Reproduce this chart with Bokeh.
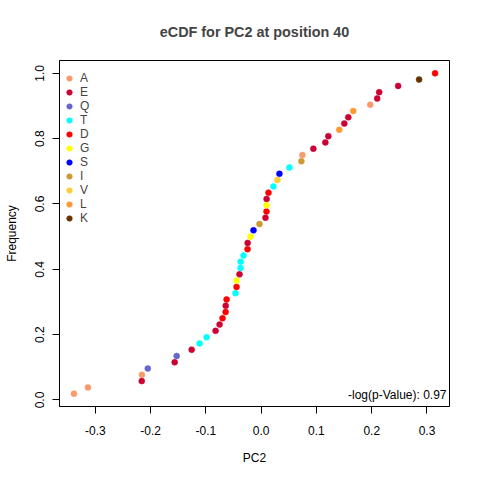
from bokeh.plotting import figure
from bokeh.models import Range1d, FixedTicker, CustomJSTickFormatter, Legend, LegendItem, Label, ColumnDataSource
from bokeh.embed import file_html
from bokeh.resources import INLINE

# eCDF data (sorted ascending by PC2)
residues = ["A", "A", "E", "A", "Q", "E", "Q", "E", "T", "T",
            "E", "E", "D", "D", "E", "D", "T", "D", "G", "E",
            "T", "T", "T", "D", "E", "G", "S", "I", "E", "D",
            "G", "E", "D", "T", "V", "S", "T", "I", "A", "E",
            "E", "E", "L", "E", "E", "L", "A", "E", "E", "E",
            "K", "D"]
pc2 = [-0.3388, -0.3135, -0.2161, -0.2158, -0.2052, -0.1565, -0.1529, -0.1258, -0.1114, -0.0987,
       -0.0825, -0.0753, -0.0699, -0.0644, -0.0642, -0.0626, -0.0464, -0.0446, -0.0444, -0.0392,
       -0.0374, -0.0372, -0.0319, -0.0247, -0.0245, -0.0193, -0.0139, -0.0031, 0.0078, 0.0096,
       0.0097, 0.0098, 0.0132, 0.0222, 0.0294, 0.0330, 0.0511, 0.0727, 0.0746, 0.0944,
       0.1161, 0.1215, 0.1413, 0.1504, 0.1576, 0.1666, 0.1973, 0.2099, 0.2135, 0.2478,
       0.2857, 0.3146]
legend_order = ["A", "E", "Q", "T", "D", "G", "S", "I", "V", "L", "K"]
legend_colors = ["#F99A6C", "#CC0033", "#6666CC", "#00FFFF", "#FF0000", "#FFFF00",
                 "#0000FF", "#CC9933", "#FFCC33", "#FF9933", "#663300"]
x_ticks = [-0.3, -0.2, -0.1, 0.0, 0.1, 0.2, 0.3]
y_ticks = [0.0, 0.2, 0.4, 0.6, 0.8, 1.0]
title_text = "eCDF for PC2 at position 40"
pvalue_text = "-log(p-Value): 0.97"

n = len(pc2)
freq = [(i + 1) / n for i in range(n)]

xmin, xmax = min(pc2), max(pc2)
ymin, ymax = min(freq), max(freq)
xs = (xmax - xmin) * 0.04
ys = (ymax - ymin) * 0.04
xr = Range1d(xmin - xs, xmax + xs)
yr = Range1d(ymin - ys, ymax + ys)

FONT = "Liberation Sans"
FW, FH = 390, 346

p = figure(frame_width=FW, frame_height=FH, x_range=xr, y_range=yr,
           output_backend="svg", toolbar_location=None,
           min_border_left=59, min_border_right=23, min_border_top=59, min_border_bottom=58,
           title=title_text)
p.title.align = "center"
p.title.text_font = FONT
p.title.text_font_size = "14.4px"
p.title.text_font_style = "bold"
p.title.standoff = 42

p.xgrid.visible = False
p.ygrid.visible = False
p.outline_line_color = "black"
p.outline_line_width = 1
p.background_fill_color = "white"
p.border_fill_color = "white"

fmt = CustomJSTickFormatter(code="return tick.toFixed(1);")
for ax, ticks in ((p.xaxis[0], x_ticks), (p.yaxis[0], y_ticks)):
    ax.ticker = FixedTicker(ticks=ticks)
    ax.formatter = fmt
    ax.major_tick_in = 0
    ax.major_tick_out = 7
    ax.minor_tick_in = 0
    ax.minor_tick_out = 0
    ax.major_label_text_font = FONT
    ax.major_label_text_font_size = "12px"
    ax.major_label_text_color = "black"
    ax.axis_label_text_font = FONT
    ax.axis_label_text_font_size = "12px"
    ax.axis_label_text_font_style = "normal"
    ax.axis_label_text_color = "black"
    ax.axis_line_color = "black"
    ax.major_tick_line_color = "black"

p.xaxis.axis_label = "PC2"
p.yaxis.axis_label = "Frequency"
p.xaxis.major_label_standoff = 12
p.xaxis.axis_label_standoff = 13
p.yaxis.major_label_standoff = 8
p.yaxis.axis_label_standoff = 14
p.yaxis.major_label_orientation = "vertical"

color_of = dict(zip(legend_order, legend_colors))
items = []
for res in legend_order:
    xs_ = [x for x, r in zip(pc2, residues) if r == res]
    ys_ = [y for y, r in zip(freq, residues) if r == res]
    src = ColumnDataSource(dict(x=xs_, y=ys_))
    rend = p.scatter("x", "y", source=src, size=6, fill_color=color_of[res],
                     line_color=color_of[res], line_width=0.5)
    items.append(LegendItem(label=res, renderers=[rend]))

legend = Legend(items=items, location=(2, 181), margin=0, padding=0,
                glyph_width=16, glyph_height=14, label_height=14, spacing=0,
                label_standoff=3, border_line_color=None, background_fill_alpha=0,
                label_text_font=FONT, label_text_font_size="12px")
p.add_layout(legend)

lab = Label(x=xr.end - 3 / 554, y=yr.start + 12 / 327.3, text=pvalue_text,
            text_align="right", text_baseline="middle", text_font=FONT,
            text_font_size="12px", text_color="black")
p.add_layout(lab)

open("out.html", "w").write(file_html(p, INLINE))
